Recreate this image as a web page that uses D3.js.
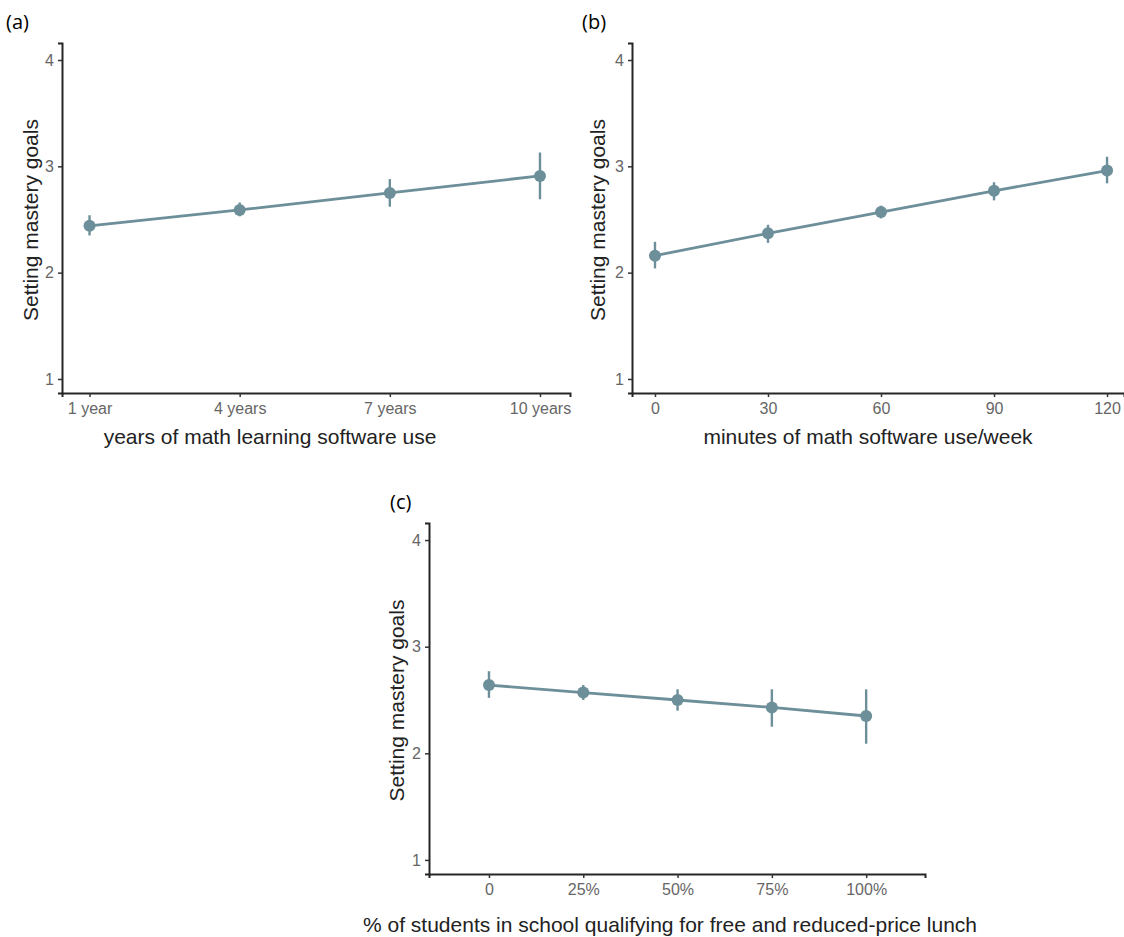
<!DOCTYPE html>
<html>
<head>
<meta charset="utf-8">
<script src="https://cdn.jsdelivr.net/npm/d3@7"></script>
<style>
  body { margin: 0; background: #fff; }
</style>
</head>
<body>
<svg id="chart"></svg>
<script>
// y ticks shared by all three panels
const yTicks = [1, 2, 3, 4];

// (a) years of software use
const yearsX = [1, 4, 7, 10];
const yearsLabels = ["1 year", "4 years", "7 years", "10 years"];
const yearsMean = [2.44, 2.59, 2.75, 2.91];
const yearsLo = [2.35, 2.53, 2.62, 2.69];
const yearsHi = [2.54, 2.66, 2.88, 3.13];

// (b) minutes per week
const minutesX = [0, 30, 60, 90, 120];
const minutesLabels = ["0", "30", "60", "90", "120"];
const minutesMean = [2.16, 2.37, 2.57, 2.77, 2.96];
const minutesLo = [2.04, 2.28, 2.51, 2.68, 2.84];
const minutesHi = [2.29, 2.45, 2.63, 2.85, 3.09];

// (c) free / reduced-price lunch share
const lunchX = [0, 25, 50, 75, 100];
const lunchLabels = ["0", "25%", "50%", "75%", "100%"];
const lunchMean = [2.64, 2.57, 2.50, 2.43, 2.35];
const lunchLo = [2.52, 2.50, 2.40, 2.25, 2.09];
const lunchHi = [2.77, 2.64, 2.60, 2.60, 2.60];

const width = 1124, height = 937;
const lineColor = "#6d8f9a";
const font = "'Liberation Sans', Arial, sans-serif";

const svg = d3.select("#chart")
    .attr("width", width)
    .attr("height", height);

function drawPanel(p) {
    const g = svg.append("g");

    const x = d3.scaleLinear().domain(p.xDomain).range([p.left, p.right]);
    const y = d3.scaleLinear().domain([0.868, 4.16]).range([p.bottom, p.top]);

    const pts = p.xs.map((v, i) => ({ x: v, m: p.mean[i], lo: p.lo[i], hi: p.hi[i] }));

    // error bars
    g.selectAll(".err")
        .data(pts)
        .enter().append("line")
        .attr("x1", d => x(d.x))
        .attr("x2", d => x(d.x))
        .attr("y1", d => y(d.lo))
        .attr("y2", d => y(d.hi))
        .attr("stroke", lineColor)
        .attr("stroke-width", 2.4);

    // connecting line
    g.append("path")
        .datum(pts)
        .attr("fill", "none")
        .attr("stroke", lineColor)
        .attr("stroke-width", 2.8)
        .attr("d", d3.line().x(d => x(d.x)).y(d => y(d.m)));

    // points
    g.selectAll(".pt")
        .data(pts)
        .enter().append("circle")
        .attr("cx", d => x(d.x))
        .attr("cy", d => y(d.m))
        .attr("r", 6)
        .attr("fill", lineColor);

    // axes
    const xAxis = g.append("g")
        .attr("transform", `translate(0,${p.bottom})`)
        .call(d3.axisBottom(x).tickValues(p.xs)
            .tickFormat((d, i) => p.labels[i])
            .tickSizeOuter(0).tickSize(4).tickPadding(6));

    const yAxis = g.append("g")
        .attr("transform", `translate(${p.left},0)`)
        .call(d3.axisLeft(y).tickValues(yTicks)
            .tickFormat(d3.format("d"))
            .tickSizeOuter(0).tickSize(4).tickPadding(4));

    [xAxis, yAxis].forEach(a => {
        a.attr("font-family", null).attr("font-size", null);
        a.select(".domain").attr("stroke", "#262626").attr("stroke-width", 2);
        a.selectAll(".tick line").attr("stroke", "#333").attr("stroke-width", 1.5);
        a.selectAll(".tick text")
            .attr("fill", "#666")
            .style("font-family", font)
            .style("font-size", "16px");
    });

    // axis titles
    svg.append("text")
        .attr("x", p.xTitleX)
        .attr("y", p.xTitleY)
        .attr("text-anchor", "middle")
        .attr("fill", "#222")
        .style("font-family", font)
        .style("font-size", "21px")
        .text(p.xTitle);

    svg.append("text")
        .attr("transform", `translate(${p.yTitleX},${(p.top + p.bottom) / 2 + 2}) rotate(-90)`)
        .attr("text-anchor", "middle")
        .attr("fill", "#222")
        .style("font-family", font)
        .style("font-size", "21px")
        .text("Setting mastery goals");

    // panel tag
    svg.append("text")
        .attr("x", p.tagX)
        .attr("y", p.tagY)
        .attr("fill", "#000")
        .style("font-family", "'Open Sans', sans-serif")
        .style("font-size", "20px")
        .text(p.tag);
}

drawPanel({
    tag: "(a)", tagX: 6, tagY: 29,
    xs: yearsX, labels: yearsLabels, mean: yearsMean, lo: yearsLo, hi: yearsHi,
    xDomain: [0.45, 10.6],
    left: 62, right: 570, top: 43, bottom: 393,
    xTitle: "years of math learning software use", xTitleX: 270, xTitleY: 444,
    yTitleX: 38
});

drawPanel({
    tag: "(b)", tagX: 582, tagY: 29,
    xs: minutesX, labels: minutesLabels, mean: minutesMean, lo: minutesLo, hi: minutesHi,
    xDomain: [-6.1, 124.5],
    left: 632, right: 1124, top: 43, bottom: 393,
    xTitle: "minutes of math software use/week", xTitleX: 868, xTitleY: 444,
    yTitleX: 605
});

drawPanel({
    tag: "(c)", tagX: 390, tagY: 509,
    xs: lunchX, labels: lunchLabels, mean: lunchMean, lo: lunchLo, hi: lunchHi,
    xDomain: [-15.9, 115.6],
    left: 429, right: 925, top: 523, bottom: 874,
    xTitle: "% of students in school qualifying for free and reduced-price lunch", xTitleX: 670, xTitleY: 932,
    yTitleX: 404
});
</script>
</body>
</html>
